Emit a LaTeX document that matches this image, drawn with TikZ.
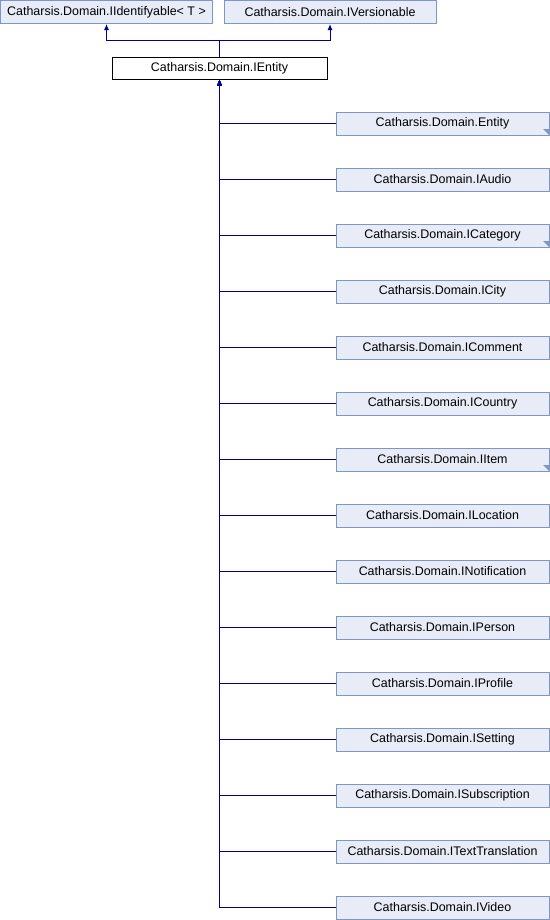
\documentclass[tikz,border=0pt]{standalone}
\usepackage{fontspec}
\setmainfont{Liberation Sans}
\usetikzlibrary{arrows.meta}
\definecolor{boxfill}{RGB}{232,236,246}
\definecolor{boxdraw}{RGB}{124,149,202}
\definecolor{edgecol}{RGB}{0,0,145}
\begin{document}
\begin{tikzpicture}[x=1bp,y=-1bp,
  cls/.style={draw=boxdraw,fill=boxfill,line width=1bp,minimum width=213bp,minimum height=23bp,inner sep=0pt,font=\fontsize{12.5}{14}\selectfont},
  cur/.style={draw=black,fill=white,line width=1bp,minimum width=215bp,minimum height=22bp,inner sep=0pt,font=\fontsize{12.5}{14}\selectfont},
  edge/.style={draw=edgecol,line width=1bp,-{Latex[length=6bp,width=5bp]}},
  fold/.style={fill=boxdraw}]
\useasboundingbox (0,0) rectangle (550,920);
\fill[white] (0,0) rectangle (550,920);
\node[cls,minimum width=212bp] (ident) at (106.5,12) {Catharsis.Domain.IIdentifyable< T >};
\node[cls,minimum width=212bp] (vers) at (330,12) {Catharsis.Domain.IVersionable};
\node[cur] (ent) at (219.5,68) {Catharsis.Domain.IEntity};
\coordinate (split) at (219.5,40.5);
\draw[edge] (ent.north) -- (split) -| (ident.south);
\draw[edge] (ent.north) -- (split) -| (vers.south);
\foreach \name/\txt/\k/\f in {c0/Entity/0/1,c1/IAudio/1/0,c2/ICategory/2/1,c3/ICity/3/0,c4/IComment/4/0,c5/ICountry/5/0,c6/IItem/6/1,c7/ILocation/7/0,c8/INotification/8/0,c9/IPerson/9/0,c10/IProfile/10/0,c11/ISetting/11/0,c12/ISubscription/12/0,c13/ITextTranslation/13/0,c14/IVideo/14/0}{
  \node[cls] (\name) at (442.5,123.5+56*\k) {Catharsis.Domain.\txt};
  \draw[edge] (\name.west) -| (ent.south);
  \ifnum\f=1
    \fill[fold] ([xshift=-0.5bp,yshift=0.5bp]\name.south east) -- ++(0,-6) -- ++(-6,0) -- cycle;
  \fi
}
\end{tikzpicture}
\end{document}
